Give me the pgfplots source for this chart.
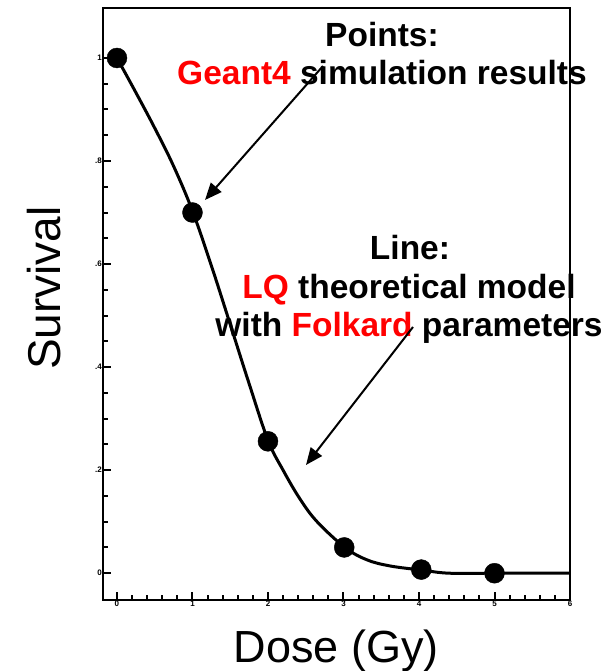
\documentclass[border=0pt]{standalone}
\usepackage{pgfplots}
\pgfplotsset{compat=1.18}
\usepackage{fontspec}
\setmainfont{Liberation Sans}
\usetikzlibrary{arrows.meta}
\definecolor{annred}{RGB}{255,0,0}
\begin{document}
\begin{tikzpicture}
\useasboundingbox (0,0) rectangle (612pt,671pt);
\begin{axis}[
  at={(103pt,71pt)}, anchor=south west,
  scale only axis, width=467pt, height=592pt,
  xmin=-0.185, xmax=6.0, ymin=-0.052, ymax=1.097,
  xtick={0,1,2,3,4,5,6}, ytick={0,0.2,0.4,0.6,0.8,1.0},
  xticklabels={0,1,2,3,4,5,6},
  yticklabels={0,.2,.4,.6,.8,1},
  minor x tick num=4, minor y tick num=3,
  tick pos=left, tick align=inside,
  major tick length=8pt, minor tick length=5pt,
  every tick/.style={black, line width=2pt},
  axis line style={line width=2.5pt},
  tick label style={font=\fontsize{8}{8}\selectfont\bfseries, inner sep=1pt},
  /pgf/number format/assume math mode=true,
  xlabel={Dose (Gy)}, ylabel={Survival},
  xlabel style={at={(axis description cs:0.5,0)}, anchor=base, yshift=-62pt, font=\fontsize{45}{45}\selectfont, inner sep=0pt},
  ylabel style={at={(axis description cs:0,0.527)}, anchor=base, yshift=43pt, font=\fontsize{46}{46}\selectfont, inner sep=0pt},
  clip=false,
]
\addplot[black, line width=3pt, smooth, tension=0.6] coordinates {
 (0,1.0) (0.25,0.933) (0.5,0.864) (0.75,0.790) (1.0,0.703)
 (1.25,0.597) (1.5,0.483) (1.75,0.368) (2.0,0.258)
 (2.2,0.200) (2.42,0.145) (2.65,0.100) (3.02,0.05) (3.31,0.026) (3.62,0.014)
 (4.04,0.006) (4.4,0.0) (5,0.0) (6,0.0)
};
\addplot[only marks, mark=*, mark size=10pt, black] coordinates {
 (0,1.0) (1,0.70) (2,0.256) (3.01,0.05) (4.03,0.007) (5.0,0.0)
};
\end{axis}
\begin{scope}[font=\fontsize{33.5}{33.5}\selectfont\bfseries]
\node[anchor=base] at (382pt,624pt) {Points:};
\node[anchor=base] at (382pt,586pt) {\textcolor{annred}{Geant4} simulation results};
\node[anchor=base] at (410pt,411pt) {Line:};
\node[anchor=base] at (409pt,372pt) {\textcolor{annred}{LQ} theoretical model};
\node[anchor=base] at (409pt,334pt) {with \textcolor{annred}{Folkard} parameters};
\end{scope}
\draw[line width=2pt, -{Triangle[length=17pt,width=14pt]}] (323pt,605pt) -- (205pt,471pt);
\draw[line width=2pt, -{Triangle[length=17pt,width=14pt]}] (413pt,344pt) -- (306pt,206pt);
\end{tikzpicture}
\end{document}
